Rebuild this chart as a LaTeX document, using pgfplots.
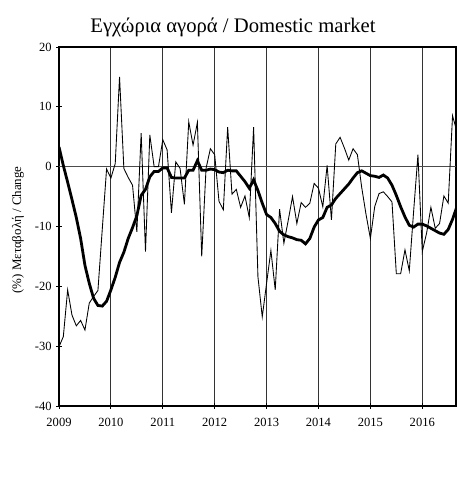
\documentclass[border=0pt]{standalone}
\usepackage{fontspec}
\setmainfont{Liberation Serif}
\usepackage{pgfplots}
\pgfplotsset{compat=1.18}
\begin{document}
\begin{tikzpicture}
\useasboundingbox (-44.25pt,-72pt) rectangle (297.75pt,304.5pt);
\begin{axis}[
  scale only axis, width=297.75pt, height=269.25pt,
  at={(0,0)}, anchor=south west,
  xmin=0, xmax=91.8, ymin=-40, ymax=20,
  xtick={0,12,24,36,48,60,72,84},
  xticklabels={2009,2010,2011,2012,2013,2014,2015,2016},
  ytick={-40,-30,-20,-10,0,10,20},
  /pgf/number format/assume math mode=true,
  xmajorgrids, grid style={black!80, line width=0.6pt},
  axis line style={line width=1pt},
  tick style={black, line width=0.6pt}, tick align=center, major tick length=4pt,
  tick pos=left,
  ticklabel style={font=\fontsize{9.4}{10}\selectfont},
  xticklabel style={yshift=-3.5pt},
  clip=true,
]
\addplot[black!70, line width=0.75pt, forget plot] coordinates {(0,0) (91.8,0)};
\addplot[black, line width=0.65pt] coordinates {
(0,-30.1)(1,-28.4)(2,-20.6)(3,-24.8)(4,-26.6)(5,-25.7)(6,-27.3)(7,-22.8)(8,-21.7)(9,-20.7)
(10,-10.5)(11,-0.4)(12,-1.9)(13,0.5)(14,15.0)(15,-0.3)(16,-1.8)(17,-3.1)(18,-10.9)(19,5.6)
(20,-14.2)(21,5.3)(22,0.0)(23,0.0)(24,4.5)(25,2.8)(26,-7.7)(27,0.8)(28,-0.3)(29,-6.3)
(30,7.5)(31,3.6)(32,7.4)(33,-15.0)(34,-0.3)(35,3.0)(36,2.0)(37,-5.8)(38,-7.2)(39,6.6)
(40,-4.6)(41,-3.8)(42,-6.8)(43,-4.9)(44,-8.5)(45,6.6)(46,-18.4)(47,-25.1)(48,-19.5)(49,-14.0)
(50,-20.6)(51,-7.1)(52,-12.8)(53,-9.0)(54,-5.0)(55,-9.5)(56,-6.0)(57,-6.8)(58,-6.1)(59,-2.8)
(60,-3.6)(61,-6.7)(62,0.2)(63,-8.9)(64,3.8)(65,4.9)(66,3.1)(67,1.1)(68,3.0)(69,2.0)
(70,-3.5)(71,-8.0)(72,-12.0)(73,-6.7)(74,-4.5)(75,-4.2)(76,-5.0)(77,-5.9)(78,-17.9)(79,-17.9)
(80,-13.9)(81,-17.4)(82,-7.5)(83,2.0)(84,-14.2)(85,-11.1)(86,-6.8)(87,-10.3)(88,-9.5)(89,-4.9)
(90,-6.1)(91,8.5)(92,5.9)
};
\addplot[black, line width=2.1pt] coordinates {
(0,3.3)(1,0.2)(2,-2.6)(3,-5.5)(4,-8.5)(5,-12.0)(6,-16.5)(7,-19.5)(8,-22.0)(9,-23.2)
(10,-23.3)(11,-22.5)(12,-20.6)(13,-18.5)(14,-16.0)(15,-14.3)(16,-12.0)(17,-10.2)(18,-8.2)(19,-4.8)
(20,-3.8)(21,-1.7)(22,-0.8)(23,-0.8)(24,-0.2)(25,-0.2)(26,-1.8)(27,-1.9)(28,-1.9)(29,-1.9)
(30,-0.6)(31,-0.6)(32,1.0)(33,-0.6)(34,-0.6)(35,-0.4)(36,-0.5)(37,-0.9)(38,-1.0)(39,-0.6)
(40,-0.7)(41,-0.7)(42,-1.6)(43,-2.5)(44,-3.6)(45,-2.2)(46,-4.0)(47,-6.1)(48,-8.0)(49,-8.5)
(50,-9.5)(51,-10.8)(52,-11.4)(53,-11.7)(54,-11.9)(55,-12.2)(56,-12.3)(57,-12.9)(58,-12.0)(59,-10.1)
(60,-8.9)(61,-8.5)(62,-6.8)(63,-6.4)(64,-5.3)(65,-4.5)(66,-3.7)(67,-2.9)(68,-1.9)(69,-1.0)
(70,-0.7)(71,-1.1)(72,-1.5)(73,-1.6)(74,-1.8)(75,-1.4)(76,-1.9)(77,-3.1)(78,-4.8)(79,-6.7)
(80,-8.4)(81,-9.8)(82,-10.1)(83,-9.6)(84,-9.6)(85,-9.9)(86,-10.3)(87,-10.7)(88,-11.1)(89,-11.3)
(90,-10.5)(91,-8.8)(92,-6.7)
};
\end{axis}
\node[anchor=base, font=\fontsize{15.5}{17}\selectfont] at (130.5pt,280pt) {Εγχώρια αγορά / Domestic market};
\node[rotate=90, font=\fontsize{9.7}{12}\selectfont] at (-30.75pt,132pt) {(\%) Μεταβολή / Change};
\end{tikzpicture}
\end{document}
